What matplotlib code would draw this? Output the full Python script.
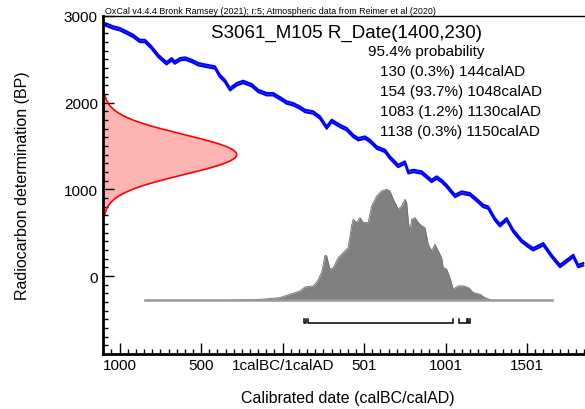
import numpy as np
import matplotlib.pyplot as plt
from matplotlib.ticker import MultipleLocator, FixedLocator

plt.rcParams['font.family'] = ['Liberation Sans', 'DejaVu Sans']

# calibration curve (year, BP)
curve_year = [-1090, -1039, -998, -957, -917, -876, -845, -804, -763, -712, -681, -661,
              -630, -599, -558, -518, -466, -415, -385, -354, -323, -282, -242, -190,
              -150, -98, -58, -6, 25, 65, 106, 137, 188, 229, 270, 301, 352, 393, 433,
              464, 505, 536, 577, 628, 658, 709, 750, 771, 802, 853, 914, 945, 975,
              1006, 1057, 1098, 1149, 1190, 1231, 1261, 1302, 1333, 1374, 1415, 1466,
              1507, 1537, 1599, 1650, 1701, 1742, 1783, 1813, 1844]
curve_bp = [2903, 2865, 2845, 2807, 2768, 2710, 2710, 2634, 2537, 2453, 2499, 2461,
            2499, 2507, 2480, 2442, 2422, 2404, 2307, 2249, 2153, 2211, 2238, 2200,
            2134, 2096, 2096, 2038, 2000, 1980, 1942, 1903, 1885, 1827, 1712, 1788,
            1730, 1692, 1615, 1577, 1596, 1557, 1481, 1442, 1366, 1269, 1308, 1196,
            1211, 1193, 1096, 1135, 1096, 1038, 923, 962, 942, 877, 807, 789, 654,
            585, 654, 519, 404, 346, 308, 366, 231, 115, 173, 231, 115, 135]
curve_err = 14

# radiocarbon date
r_mean = 1400
r_sd = 230

# calibrated distribution (year, relative probability)
post_year = [-845, -345, -200, -100, -50, -17, 45, 106, 137, 188, 208, 239, 260, 270,
             290, 311, 341, 372, 402, 423, 433, 454, 474, 495, 525, 546, 577, 607,
             638, 658, 679, 709, 730, 750, 761, 771, 781, 791, 812, 832, 853, 873,
             893, 914, 934, 955, 975, 985, 1006, 1026, 1047, 1077, 1108, 1139, 1169,
             1210, 1240, 1284, 1652]
post_prob = [0, 0, 0.005, 0.012, 0.02, 0.024, 0.054, 0.084, 0.12, 0.13, 0.16, 0.25,
             0.405, 0.40, 0.28, 0.295, 0.385, 0.43, 0.475, 0.67, 0.73, 0.70, 0.745,
             0.70, 0.70, 0.85, 0.94, 0.985, 1.0, 0.985, 0.91, 0.82, 0.85, 0.91, 0.88,
             0.71, 0.61, 0.73, 0.745, 0.70, 0.67, 0.655, 0.505, 0.445, 0.505, 0.445,
             0.385, 0.295, 0.28, 0.205, 0.10, 0.13, 0.13, 0.115, 0.07, 0.054, 0.025,
             0, 0]

# 95.4% ranges
range_start = [130, 154, 1083, 1138]
range_end = [144, 1048, 1130, 1150]
range_pct = ['0.3%', '93.7%', '1.2%', '0.3%']

fig = plt.figure(figsize=(5.85, 4.1), dpi=100)
ax = fig.add_axes([0.1766, 0.134, 0.836, 0.825])

x_left, x_right = -1100, 1900
y_bot, y_top = -900, 3000

# calibration curve as a narrow band
cy = np.array(curve_bp)
ax.fill_between(curve_year, cy - curve_err, cy + curve_err, color='#7a7aff', lw=0)
ax.plot(curve_year, cy + curve_err, color='#0000ff', lw=1.5)
ax.plot(curve_year, cy - curve_err, color='#0000ff', lw=1.5)

# radiocarbon date on the y axis
yy = np.linspace(r_mean - 3 * r_sd, r_mean + 3 * r_sd, 300)
ww = 818 * np.exp(-0.5 * ((yy - r_mean) / r_sd) ** 2)
ax.fill_betweenx(yy, x_left, x_left + ww, color='#ffb4b4', lw=0)
ax.plot(x_left + ww, yy, color='red', lw=1.2)

# calibrated distribution
base = -280
pp = base + np.array(post_prob) * 1280
ax.fill_between(post_year, base, pp, color='#808080', lw=0)
ax.plot(post_year, pp, color='#6e6e6e', lw=0.6)
ax.plot([post_year[0], post_year[-1]], [base, base], color='#999999', lw=1.8)

# range bars
for s, e in zip(range_start, range_end):
    ax.plot([s, s, e, e], [-490, -540, -540, -490], color='black', lw=1.1)

ax.set_xlim(x_left, x_right)
ax.set_ylim(y_bot, y_top)

ax.xaxis.set_major_locator(FixedLocator([-1000, -500, 0, 500, 1000, 1500]))
ax.set_xticklabels(['1000', '500', '1calBC/1calAD', '501', '1001', '1501'])
ax.xaxis.set_minor_locator(MultipleLocator(50))
ax.yaxis.set_major_locator(FixedLocator([0, 1000, 2000, 3000]))
ax.yaxis.set_minor_locator(MultipleLocator(100))

ax.tick_params(which='both', direction='in', top=False, right=False, labelsize=11,
               width=1.0)
ax.tick_params(which='major', length=8)
ax.tick_params(which='minor', length=3.5)
ax.tick_params(axis='x', pad=3)
ax.tick_params(axis='y', pad=4)

ax.spines['right'].set_visible(False)
ax.spines['left'].set_linewidth(2)
ax.spines['bottom'].set_linewidth(2)
ax.spines['top'].set_linewidth(1)

ax.set_xlabel('Calibrated date (calBC/calAD)', fontsize=11.5, labelpad=13)
ax.set_ylabel('Radiocarbon determination (BP)', fontsize=11.5, labelpad=24)

ax.text(0.0035, 1.0154, 'OxCal v4.4.4 Bronk Ramsey (2021); r:5; Atmospheric data from Reimer et al (2020)',
        transform=ax.transAxes, fontsize=6.4, va='center', ha='left')
ax.text(0.220, 0.952, 'S3061_M105 R_Date(1400,230)', transform=ax.transAxes,
        fontsize=13.5, va='center', ha='left')
ax.text(0.541, 0.895, '95.4% probability', transform=ax.transAxes,
        fontsize=11, va='center', ha='left')
ty = [0.836, 0.777, 0.718, 0.659]
for i in range(len(range_start)):
    ax.text(0.566, ty[i], f'{range_start[i]} ({range_pct[i]}) {range_end[i]}calAD',
            transform=ax.transAxes, fontsize=11, va='center', ha='left')

fig.savefig('out.png', dpi=100)
